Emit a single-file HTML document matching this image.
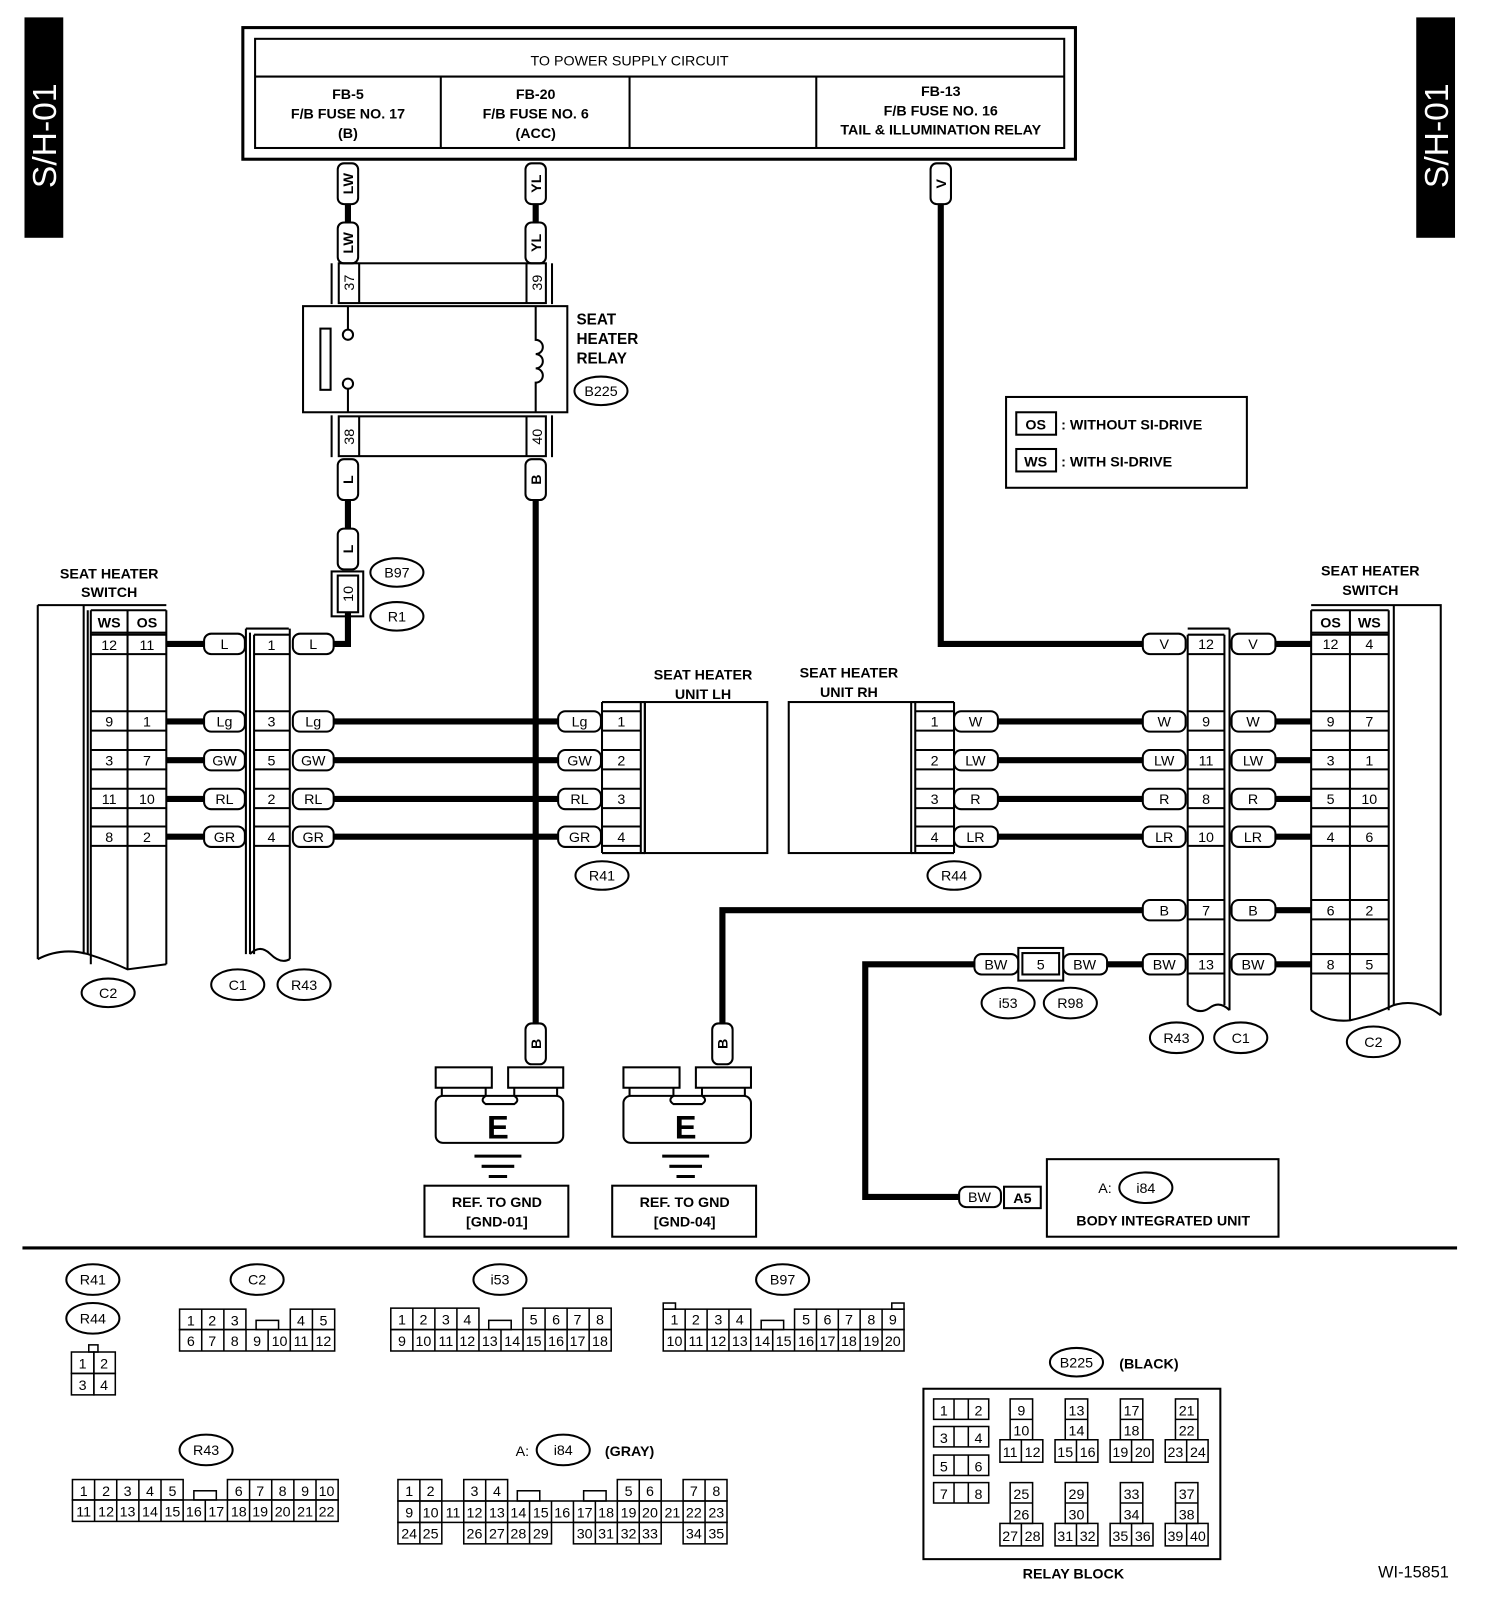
<!DOCTYPE html>
<html><head><meta charset="utf-8"><style>
html,body{margin:0;padding:0;background:#fff}
svg{display:block}
text{font-family:"Liberation Sans",sans-serif;font-weight:bold;font-size:14px;text-anchor:middle;fill:#000}
.n{font-weight:normal;font-size:14px}
.s{fill:none;stroke:#000;stroke-width:2}
.w{fill:#fff;stroke:#000;stroke-width:2}
.k{fill:none;stroke:#000;stroke-width:6}
</style></head><body>
<svg width="1504" height="1600" viewBox="0 0 1474 1568" xmlns="http://www.w3.org/2000/svg">
<!-- side tabs -->
<rect x="24" y="17" width="38" height="216" fill="#000"/>
<text transform="translate(55,133) rotate(-90)" style="font-size:33px;font-weight:normal;fill:#fff">S/H-01</text>
<rect x="1388" y="17" width="38" height="216" fill="#000"/>
<text transform="translate(1419,133) rotate(-90)" style="font-size:33px;font-weight:normal;fill:#fff">S/H-01</text>

<!-- top power box -->
<rect x="238" y="27" width="816" height="129" class="s" style="stroke-width:3"/>
<rect x="250" y="38" width="793" height="107" class="s"/>
<line x1="250" y1="75" x2="1043" y2="75" class="s"/>
<line x1="432" y1="75" x2="432" y2="145" class="s"/>
<line x1="617" y1="75" x2="617" y2="145" class="s"/>
<line x1="800" y1="75" x2="800" y2="145" class="s"/>
<text x="617" y="64" class="n">TO POWER SUPPLY CIRCUIT</text>
<text x="341" y="97">FB-5</text><text x="341" y="116">F/B FUSE NO. 17</text><text x="341" y="135">(B)</text>
<text x="525" y="97">FB-20</text><text x="525" y="116">F/B FUSE NO. 6</text><text x="525" y="135">(ACC)</text>
<text x="922" y="94">FB-13</text><text x="922" y="113">F/B FUSE NO. 16</text><text x="922" y="132">TAIL &amp; ILLUMINATION RELAY</text>

<!-- wires (thick) -->
<g class="k">
<path d="M341 200V218M525 200V218"/>
<path d="M341 490V518"/>
<path d="M341 600V631H327"/>
<path d="M525 490V1003"/>
<path d="M922 200V631H1120"/>
<path d="M163 631H200M163 707H200M163 745H200M163 783H200M163 820H200"/>
<path d="M327 707H547M327 745H547M327 783H547M327 820H547"/>
<path d="M978 707H1120M978 745H1120M978 783H1120M978 820H1120"/>
<path d="M1250 631H1285M1250 707H1285M1250 745H1285M1250 783H1285M1250 820H1285M1250 892H1285M1250 945H1285"/>
<path d="M1120 892H708V1003"/>
<path d="M1085 945H1120"/>
<path d="M955 945H848V1173H940"/>
</g>

<!-- vertical tags -->
<g>
<rect x="331" y="160" width="20" height="40" rx="6" class="w"/><text transform="translate(346,180) rotate(-90)">LW</text>
<rect x="331" y="218" width="20" height="40" rx="6" class="w"/><text transform="translate(346,238) rotate(-90)">LW</text>
<rect x="515" y="160" width="20" height="40" rx="6" class="w"/><text transform="translate(530,180) rotate(-90)">YL</text>
<rect x="515" y="218" width="20" height="40" rx="6" class="w"/><text transform="translate(530,238) rotate(-90)">YL</text>
<rect x="912" y="160" width="20" height="40" rx="6" class="w"/><text transform="translate(927,180) rotate(-90)">V</text>
<rect x="331" y="450" width="20" height="40" rx="6" class="w"/><text transform="translate(346,470) rotate(-90)">L</text>
<rect x="515" y="450" width="20" height="40" rx="6" class="w"/><text transform="translate(530,470) rotate(-90)">B</text>
<rect x="331" y="518" width="20" height="40" rx="6" class="w"/><text transform="translate(346,538) rotate(-90)">L</text>
<rect x="515" y="1003" width="20" height="40" rx="6" class="w"/><text transform="translate(530,1023) rotate(-90)">B</text>
<rect x="698" y="1003" width="20" height="40" rx="6" class="w"/><text transform="translate(713,1023) rotate(-90)">B</text>
</g>

<!-- relay connectors -->
<line x1="325" y1="258" x2="325" y2="298" class="s"/><line x1="541" y1="258" x2="541" y2="298" class="s"/>
<rect x="332" y="258" width="203" height="39" class="s"/>
<line x1="352" y1="258" x2="352" y2="297" class="s"/><line x1="516" y1="258" x2="516" y2="297" class="s"/>
<text transform="translate(347,277) rotate(-90)" class="n">37</text>
<text transform="translate(531,277) rotate(-90)" class="n">39</text>
<line x1="325" y1="407" x2="325" y2="448" class="s"/><line x1="541" y1="407" x2="541" y2="448" class="s"/>
<rect x="332" y="408" width="203" height="39" class="s"/>
<line x1="352" y1="408" x2="352" y2="447" class="s"/><line x1="516" y1="408" x2="516" y2="447" class="s"/>
<text transform="translate(347,428) rotate(-90)" class="n">38</text>
<text transform="translate(531,428) rotate(-90)" class="n">40</text>
<!-- relay body -->
<rect x="297" y="300" width="259" height="104" class="s"/>
<rect x="314" y="322" width="10" height="60" class="s"/>
<path d="M341 300V323M341 381V404" class="s"/>
<circle cx="341" cy="328" r="5" class="w"/><circle cx="341" cy="376" r="5" class="w"/>
<path d="M525 300V333 a7 7 0 1 1 0 14 a7 7 0 1 1 0 14 a7 7 0 1 1 0 14 V404" class="s"/>
<text x="565" y="318" style="text-anchor:start;font-size:15px">SEAT</text>
<text x="565" y="337" style="text-anchor:start;font-size:15px">HEATER</text>
<text x="565" y="356" style="text-anchor:start;font-size:15px">RELAY</text>
<ellipse cx="589" cy="383" rx="26" ry="14" class="s"/><text x="589" y="388" class="n">B225</text>

<!-- B97/R1 connector -->
<rect x="325" y="560" width="31" height="44" class="s"/>
<rect x="331" y="564" width="20" height="36" class="s"/>
<text transform="translate(346,582) rotate(-90)" class="n">10</text>
<ellipse cx="389" cy="561" rx="26" ry="14" class="s"/><text x="389" y="566" class="n">B97</text>
<ellipse cx="389" cy="604" rx="26" ry="14" class="s"/><text x="389" y="609" class="n">R1</text>

<!-- legend -->
<rect x="986" y="389" width="236" height="89" class="s"/>
<rect x="996" y="404" width="39" height="22" class="s"/><text x="1015" y="421">OS</text>
<text x="1040" y="421" style="text-anchor:start">: WITHOUT SI-DRIVE</text>
<rect x="996" y="440" width="39" height="22" class="s"/><text x="1015" y="457">WS</text>
<text x="1040" y="457" style="text-anchor:start">: WITH SI-DRIVE</text>

<!-- LEFT SEAT HEATER SWITCH -->
<text x="107" y="567">SEAT HEATER</text><text x="107" y="585">SWITCH</text>
<path d="M37 593H163M37 593V940M82 593V935M86 598V935" class="s"/>
<path d="M37 940Q60 928 86 935Q108 942 125 950L163 945" class="s"/>
<path d="M89 598V945M125 598V950M163 598V945M89 598H163M89 620H163" class="s"/>
<path d="M89 622H163M89 641H163M89 697H163M89 716H163M89 735H163M89 754H163M89 773H163M89 792H163M89 810H163M89 829H163" class="s"/>
<text x="107" y="615">WS</text><text x="144" y="615">OS</text>
<text x="107" y="637" class="n">12</text><text x="144" y="637" class="n">11</text>
<text x="107" y="712" class="n">9</text><text x="144" y="712" class="n">1</text>
<text x="107" y="750" class="n">3</text><text x="144" y="750" class="n">7</text>
<text x="107" y="788" class="n">11</text><text x="144" y="788" class="n">10</text>
<text x="107" y="825" class="n">8</text><text x="144" y="825" class="n">2</text>
<ellipse cx="106" cy="973" rx="26" ry="14" class="s"/><text x="106" y="978" class="n">C2</text>

<!-- left C1/R43 -->
<path d="M241 616H283M241 616V935M245 620V935M249 622V935M284 616V940" class="s"/>
<path d="M245 935Q255 925 265 935Q275 945 284 940" class="s"/>
<path d="M249 622H284M249 641H284M249 697H284M249 716H284M249 735H284M249 754H284M249 773H284M249 792H284M249 810H284M249 829H284" class="s"/>
<text x="266" y="637" class="n">1</text><text x="266" y="712" class="n">3</text><text x="266" y="750" class="n">5</text><text x="266" y="788" class="n">2</text><text x="266" y="825" class="n">4</text>
<ellipse cx="233" cy="965" rx="26" ry="15" class="s"/><text x="233" y="970" class="n">C1</text>
<ellipse cx="298" cy="965" rx="26" ry="15" class="s"/><text x="298" y="970" class="n">R43</text>

<!-- left tags -->
<g>
<rect x="200" y="621" width="40" height="20" rx="7" class="w"/><text x="220" y="636" class="n">L</text>
<rect x="287" y="621" width="40" height="20" rx="7" class="w"/><text x="307" y="636" class="n">L</text>
<rect x="200" y="697" width="40" height="20" rx="7" class="w"/><text x="220" y="712" class="n">Lg</text>
<rect x="287" y="697" width="40" height="20" rx="7" class="w"/><text x="307" y="712" class="n">Lg</text>
<rect x="200" y="735" width="40" height="20" rx="7" class="w"/><text x="220" y="750" class="n">GW</text>
<rect x="287" y="735" width="40" height="20" rx="7" class="w"/><text x="307" y="750" class="n">GW</text>
<rect x="200" y="773" width="40" height="20" rx="7" class="w"/><text x="220" y="788" class="n">RL</text>
<rect x="287" y="773" width="40" height="20" rx="7" class="w"/><text x="307" y="788" class="n">RL</text>
<rect x="200" y="810" width="40" height="20" rx="7" class="w"/><text x="220" y="825" class="n">GR</text>
<rect x="287" y="810" width="40" height="20" rx="7" class="w"/><text x="307" y="825" class="n">GR</text>
<rect x="547" y="697" width="42" height="20" rx="7" class="w"/><text x="568" y="712" class="n">Lg</text>
<rect x="547" y="735" width="42" height="20" rx="7" class="w"/><text x="568" y="750" class="n">GW</text>
<rect x="547" y="773" width="42" height="20" rx="7" class="w"/><text x="568" y="788" class="n">RL</text>
<rect x="547" y="810" width="42" height="20" rx="7" class="w"/><text x="568" y="825" class="n">GR</text>
</g>

<!-- unit LH -->
<text x="689" y="666">SEAT HEATER</text><text x="689" y="685">UNIT LH</text>
<path d="M590 688V836M628 688V836M632 688V836M590 688H632M590 836H632" class="s"/>
<path d="M590 697H628M590 716H628M590 735H628M590 754H628M590 773H628M590 792H628M590 810H628M590 829H628" class="s"/>
<rect x="632" y="688" width="120" height="148" class="s"/>
<text x="609" y="712" class="n">1</text><text x="609" y="750" class="n">2</text><text x="609" y="788" class="n">3</text><text x="609" y="825" class="n">4</text>
<ellipse cx="590" cy="858" rx="26" ry="14" class="s"/><text x="590" y="863" class="n">R41</text>

<!-- unit RH -->
<text x="832" y="664">SEAT HEATER</text><text x="832" y="683">UNIT RH</text>
<rect x="773" y="688" width="120" height="148" class="s"/>
<path d="M897 688V836M935 688V836M893 688H935M893 836H935" class="s"/>
<path d="M897 697H935M897 716H935M897 735H935M897 754H935M897 773H935M897 792H935M897 810H935M897 829H935" class="s"/>
<text x="916" y="712" class="n">1</text><text x="916" y="750" class="n">2</text><text x="916" y="788" class="n">3</text><text x="916" y="825" class="n">4</text>
<ellipse cx="935" cy="858" rx="26" ry="14" class="s"/><text x="935" y="863" class="n">R44</text>
<g>
<rect x="935" y="697" width="43" height="20" rx="7" class="w"/><text x="956" y="712" class="n">W</text>
<rect x="935" y="735" width="43" height="20" rx="7" class="w"/><text x="956" y="750" class="n">LW</text>
<rect x="935" y="773" width="43" height="20" rx="7" class="w"/><text x="956" y="788" class="n">R</text>
<rect x="935" y="810" width="43" height="20" rx="7" class="w"/><text x="956" y="825" class="n">LR</text>
</g>

<!-- right R43/C1 -->
<path d="M1164 616H1205M1164 622V985M1200 622V985M1205 616V990" class="s"/>
<path d="M1164 985Q1175 995 1185 988Q1195 980 1205 990" class="s"/>
<path d="M1164 622H1200M1164 641H1200M1164 697H1200M1164 716H1200M1164 735H1200M1164 754H1200M1164 773H1200M1164 792H1200M1164 810H1200M1164 829H1200M1164 882H1200M1164 901H1200M1164 935H1200M1164 954H1200" class="s"/>
<text x="1182" y="636" class="n">12</text><text x="1182" y="712" class="n">9</text><text x="1182" y="750" class="n">11</text><text x="1182" y="788" class="n">8</text><text x="1182" y="825" class="n">10</text><text x="1182" y="897" class="n">7</text><text x="1182" y="950" class="n">13</text>
<ellipse cx="1153" cy="1017" rx="26" ry="15" class="s"/><text x="1153" y="1022" class="n">R43</text>
<ellipse cx="1216" cy="1017" rx="26" ry="15" class="s"/><text x="1216" y="1022" class="n">C1</text>
<g>
<rect x="1120" y="621" width="42" height="20" rx="7" class="w"/><text x="1141" y="636" class="n">V</text>
<rect x="1207" y="621" width="43" height="20" rx="7" class="w"/><text x="1228" y="636" class="n">V</text>
<rect x="1120" y="697" width="42" height="20" rx="7" class="w"/><text x="1141" y="712" class="n">W</text>
<rect x="1207" y="697" width="43" height="20" rx="7" class="w"/><text x="1228" y="712" class="n">W</text>
<rect x="1120" y="735" width="42" height="20" rx="7" class="w"/><text x="1141" y="750" class="n">LW</text>
<rect x="1207" y="735" width="43" height="20" rx="7" class="w"/><text x="1228" y="750" class="n">LW</text>
<rect x="1120" y="773" width="42" height="20" rx="7" class="w"/><text x="1141" y="788" class="n">R</text>
<rect x="1207" y="773" width="43" height="20" rx="7" class="w"/><text x="1228" y="788" class="n">R</text>
<rect x="1120" y="810" width="42" height="20" rx="7" class="w"/><text x="1141" y="825" class="n">LR</text>
<rect x="1207" y="810" width="43" height="20" rx="7" class="w"/><text x="1228" y="825" class="n">LR</text>
<rect x="1120" y="882" width="42" height="20" rx="7" class="w"/><text x="1141" y="897" class="n">B</text>
<rect x="1207" y="882" width="43" height="20" rx="7" class="w"/><text x="1228" y="897" class="n">B</text>
<rect x="1120" y="935" width="42" height="20" rx="7" class="w"/><text x="1141" y="950" class="n">BW</text>
<rect x="1207" y="935" width="43" height="20" rx="7" class="w"/><text x="1228" y="950" class="n">BW</text>
<rect x="955" y="935" width="43" height="20" rx="7" class="w"/><text x="976" y="950" class="n">BW</text>
<rect x="1042" y="935" width="43" height="20" rx="7" class="w"/><text x="1063" y="950" class="n">BW</text>
</g>
<rect x="998" y="929" width="44" height="32" class="s"/>
<rect x="1002" y="934" width="36" height="21" class="s"/>
<text x="1020" y="950" class="n">5</text>
<ellipse cx="988" cy="983" rx="26" ry="15" class="s"/><text x="988" y="988" class="n">i53</text>
<ellipse cx="1049" cy="983" rx="26" ry="15" class="s"/><text x="1049" y="988" class="n">R98</text>

<!-- right switch -->
<text x="1343" y="564">SEAT HEATER</text><text x="1343" y="583">SWITCH</text>
<path d="M1285 593H1412V995M1366 593V985M1361 598V990" class="s"/>
<path d="M1285 598V990M1323 598V1000M1285 598H1361M1285 620H1361" class="s"/>
<path d="M1285 990Q1300 1002 1323 1000Q1345 995 1366 985Q1390 978 1412 995" class="s"/>
<path d="M1285 622H1361M1285 641H1361M1285 697H1361M1285 716H1361M1285 735H1361M1285 754H1361M1285 773H1361M1285 792H1361M1285 810H1361M1285 829H1361M1285 882H1361M1285 901H1361M1285 935H1361M1285 954H1361" class="s"/>
<text x="1304" y="615">OS</text><text x="1342" y="615">WS</text>
<text x="1304" y="636" class="n">12</text><text x="1342" y="636" class="n">4</text>
<text x="1304" y="712" class="n">9</text><text x="1342" y="712" class="n">7</text>
<text x="1304" y="750" class="n">3</text><text x="1342" y="750" class="n">1</text>
<text x="1304" y="788" class="n">5</text><text x="1342" y="788" class="n">10</text>
<text x="1304" y="825" class="n">4</text><text x="1342" y="825" class="n">6</text>
<text x="1304" y="897" class="n">6</text><text x="1342" y="897" class="n">2</text>
<text x="1304" y="950" class="n">8</text><text x="1342" y="950" class="n">5</text>
<ellipse cx="1346" cy="1021" rx="26" ry="15" class="s"/><text x="1346" y="1026" class="n">C2</text>

<!-- body integrated unit -->
<rect x="940" y="1163" width="41" height="20" rx="7" class="w"/><text x="960" y="1178" class="n">BW</text>
<rect x="984" y="1163" width="36" height="21" class="s"/><text x="1002" y="1179">A5</text>
<rect x="1026" y="1136" width="227" height="76" class="s"/>
<text x="1083" y="1169" class="n">A:</text>
<ellipse cx="1123" cy="1164" rx="26" ry="15" class="s"/><text x="1123" y="1169" class="n">i84</text>
<text x="1140" y="1201">BODY INTEGRATED UNIT</text>

<!-- grounds -->
<g>
<rect x="427" y="1046" width="55" height="20" class="s"/>
<rect x="498" y="1046" width="54" height="20" class="s"/>
<path d="M433 1066V1074M476 1066V1074M504 1066V1074M546 1066V1074M476 1074Q470 1078 476 1082H504Q510 1078 504 1074" class="s"/>
<rect x="427" y="1074" width="125" height="46" rx="7" class="s"/>
<text x="488" y="1116" style="font-size:32px">E</text>
<path d="M465 1133H511M472 1143H504M479 1153H497" class="s" style="stroke-width:3"/>
<rect x="416" y="1162" width="141" height="50" class="s"/>
<text x="487" y="1183">REF. TO GND</text><text x="487" y="1202">[GND-01]</text>
</g>
<g>
<rect x="611" y="1046" width="55" height="20" class="s"/>
<rect x="682" y="1046" width="54" height="20" class="s"/>
<path d="M617 1066V1074M660 1066V1074M688 1066V1074M730 1066V1074M660 1074Q654 1078 660 1082H688Q694 1078 688 1074" class="s"/>
<rect x="611" y="1074" width="125" height="46" rx="7" class="s"/>
<text x="672" y="1116" style="font-size:32px">E</text>
<path d="M649 1133H695M656 1143H688M663 1153H681" class="s" style="stroke-width:3"/>
<rect x="600" y="1162" width="141" height="50" class="s"/>
<text x="671" y="1183">REF. TO GND</text><text x="671" y="1202">[GND-04]</text>
</g>

<line x1="22" y1="1223" x2="1428" y2="1223" class="s" style="stroke-width:3"/>

<!-- bottom connectors -->
<ellipse cx="91" cy="1254" rx="26" ry="15" class="s"/><text x="91" y="1259" class="n">R41</text>
<ellipse cx="91" cy="1292" rx="26" ry="15" class="s"/><text x="91" y="1297" class="n">R44</text>
<rect x="87" y="1318" width="9" height="7" class="s" style="stroke-width:1.5"/>
<g class="s" style="stroke-width:1.5"><rect x="70" y="1325" width="22" height="21"/><rect x="92" y="1325" width="21" height="21"/><rect x="70" y="1346" width="22" height="21"/><rect x="92" y="1346" width="21" height="21"/></g>
<text x="81" y="1341" class="n">1</text><text x="102" y="1341" class="n">2</text><text x="81" y="1362" class="n">3</text><text x="102" y="1362" class="n">4</text>

<!-- C2 -->
<ellipse cx="252" cy="1254" rx="26" ry="15" class="s"/><text x="252" y="1259" class="n">C2</text>
<g class="s" style="stroke-width:1.5">
<rect x="176" y="1283" width="65" height="20"/><path d="M197.7 1283V1303M219.4 1283V1303"/>
<rect x="284.5" y="1283" width="43.5" height="20"/><path d="M306.2 1283V1303"/>
<rect x="251" y="1294" width="22" height="9"/>
<rect x="176" y="1303" width="152" height="21"/><path d="M197.7 1303V1324M219.4 1303V1324M241.1 1303V1324M262.8 1303V1324M284.5 1303V1324M306.2 1303V1324"/>
</g>
<text x="187" y="1299" class="n">1</text><text x="208" y="1299" class="n">2</text><text x="230" y="1299" class="n">3</text><text x="295" y="1299" class="n">4</text><text x="317" y="1299" class="n">5</text>
<text x="187" y="1319" class="n">6</text><text x="208" y="1319" class="n">7</text><text x="230" y="1319" class="n">8</text><text x="252" y="1319" class="n">9</text><text x="274" y="1319" class="n">10</text><text x="295" y="1319" class="n">11</text><text x="317" y="1319" class="n">12</text>

<!-- i53 -->
<ellipse cx="490" cy="1254" rx="26" ry="15" class="s"/><text x="490" y="1259" class="n">i53</text>
<g class="s" style="stroke-width:1.5">
<rect x="383" y="1282" width="86.4" height="21"/><path d="M404.6 1282V1303M426.2 1282V1303M447.8 1282V1303"/>
<rect x="512.6" y="1282" width="86.4" height="21"/><path d="M534.2 1282V1303M555.8 1282V1303M577.4 1282V1303"/>
<rect x="479" y="1294" width="22" height="9"/>
<rect x="383" y="1303" width="216" height="21"/><path d="M404.6 1303V1324M426.2 1303V1324M447.8 1303V1324M469.4 1303V1324M491 1303V1324M512.6 1303V1324M534.2 1303V1324M555.8 1303V1324M577.4 1303V1324"/>
</g>
<text x="394" y="1298" class="n">1</text><text x="415" y="1298" class="n">2</text><text x="437" y="1298" class="n">3</text><text x="458" y="1298" class="n">4</text><text x="523" y="1298" class="n">5</text><text x="545" y="1298" class="n">6</text><text x="566" y="1298" class="n">7</text><text x="588" y="1298" class="n">8</text>
<text x="394" y="1319" class="n">9</text><text x="415" y="1319" class="n">10</text><text x="437" y="1319" class="n">11</text><text x="458" y="1319" class="n">12</text><text x="480" y="1319" class="n">13</text><text x="502" y="1319" class="n">14</text><text x="523" y="1319" class="n">15</text><text x="545" y="1319" class="n">16</text><text x="566" y="1319" class="n">17</text><text x="588" y="1319" class="n">18</text>

<!-- B97 -->
<ellipse cx="767" cy="1254" rx="26" ry="15" class="s"/><text x="767" y="1259" class="n">B97</text>
<g class="s" style="stroke-width:1.5">
<rect x="650" y="1277" width="12" height="6"/><rect x="874" y="1277" width="12" height="6"/>
<rect x="650" y="1283" width="85.8" height="20"/><path d="M671.5 1283V1303M693 1283V1303M714.4 1283V1303"/>
<rect x="778.7" y="1283" width="107.3" height="20"/><path d="M800.2 1283V1303M821.6 1283V1303M843 1283V1303M864.5 1283V1303"/>
<rect x="746" y="1294" width="22" height="9"/>
<rect x="650" y="1303" width="236" height="21"/><path d="M671.5 1303V1324M693 1303V1324M714.4 1303V1324M735.8 1303V1324M757.3 1303V1324M778.7 1303V1324M800.2 1303V1324M821.6 1303V1324M843 1303V1324M864.5 1303V1324"/>
</g>
<text x="661" y="1298" class="n">1</text><text x="682" y="1298" class="n">2</text><text x="704" y="1298" class="n">3</text><text x="725" y="1298" class="n">4</text><text x="790" y="1298" class="n">5</text><text x="811" y="1298" class="n">6</text><text x="832" y="1298" class="n">7</text><text x="854" y="1298" class="n">8</text><text x="875" y="1298" class="n">9</text>
<text x="661" y="1319" class="n">10</text><text x="682" y="1319" class="n">11</text><text x="704" y="1319" class="n">12</text><text x="725" y="1319" class="n">13</text><text x="747" y="1319" class="n">14</text><text x="768" y="1319" class="n">15</text><text x="790" y="1319" class="n">16</text><text x="811" y="1319" class="n">17</text><text x="832" y="1319" class="n">18</text><text x="854" y="1319" class="n">19</text><text x="875" y="1319" class="n">20</text>

<!-- R43 -->
<ellipse cx="202" cy="1421" rx="26" ry="15" class="s"/><text x="202" y="1426" class="n">R43</text>
<g class="s" style="stroke-width:1.5">
<rect x="71" y="1450" width="108.5" height="20"/><path d="M92.7 1450V1470M114.4 1450V1470M136.1 1450V1470M157.8 1450V1470"/>
<rect x="222.9" y="1450" width="108.5" height="20"/><path d="M244.6 1450V1470M266.3 1450V1470M288 1450V1470M309.7 1450V1470"/>
<rect x="190" y="1461" width="22" height="9"/>
<rect x="71" y="1470" width="260.4" height="21"/><path d="M92.7 1470V1491M114.4 1470V1491M136.1 1470V1491M157.8 1470V1491M179.5 1470V1491M201.2 1470V1491M222.9 1470V1491M244.6 1470V1491M266.3 1470V1491M288 1470V1491M309.7 1470V1491"/>
</g>
<text x="82" y="1466" class="n">1</text><text x="104" y="1466" class="n">2</text><text x="125" y="1466" class="n">3</text><text x="147" y="1466" class="n">4</text><text x="169" y="1466" class="n">5</text><text x="234" y="1466" class="n">6</text><text x="255" y="1466" class="n">7</text><text x="277" y="1466" class="n">8</text><text x="299" y="1466" class="n">9</text><text x="320" y="1466" class="n">10</text>
<text x="82" y="1486" class="n">11</text><text x="104" y="1486" class="n">12</text><text x="125" y="1486" class="n">13</text><text x="147" y="1486" class="n">14</text><text x="169" y="1486" class="n">15</text><text x="190" y="1486" class="n">16</text><text x="212" y="1486" class="n">17</text><text x="234" y="1486" class="n">18</text><text x="255" y="1486" class="n">19</text><text x="277" y="1486" class="n">20</text><text x="299" y="1486" class="n">21</text><text x="320" y="1486" class="n">22</text>

<!-- i84 -->
<text x="512" y="1427" class="n">A:</text>
<ellipse cx="552" cy="1421" rx="26" ry="15" class="s"/><text x="552" y="1426" class="n">i84</text>
<text x="617" y="1427">(GRAY)</text>
<g class="s" style="stroke-width:1.5">
<rect x="390" y="1450" width="43" height="21"/><path d="M411.5 1450V1471"/>
<rect x="454.5" y="1450" width="43" height="21"/><path d="M476 1450V1471"/>
<rect x="507" y="1461" width="22" height="10"/><rect x="572" y="1461" width="22" height="10"/>
<rect x="605" y="1450" width="43" height="21"/><path d="M626.5 1450V1471"/>
<rect x="669.5" y="1450" width="43" height="21"/><path d="M691 1450V1471"/>
<rect x="390" y="1471" width="322.5" height="21"/>
<path d="M411.5 1471V1492M433 1471V1492M454.5 1471V1492M476 1471V1492M497.5 1471V1492M519 1471V1492M540.5 1471V1492M562 1471V1492M583.5 1471V1492M605 1471V1492M626.5 1471V1492M648 1471V1492M669.5 1471V1492M691 1471V1492"/>
<rect x="390" y="1492" width="43" height="21"/><path d="M411.5 1492V1513"/>
<rect x="454.5" y="1492" width="86" height="21"/><path d="M476 1492V1513M497.5 1492V1513M519 1492V1513"/>
<rect x="562" y="1492" width="86" height="21"/><path d="M583.5 1492V1513M605 1492V1513M626.5 1492V1513"/>
<rect x="669.5" y="1492" width="43" height="21"/><path d="M691 1492V1513"/>
</g>
<text x="401" y="1466" class="n">1</text><text x="422" y="1466" class="n">2</text><text x="465" y="1466" class="n">3</text><text x="487" y="1466" class="n">4</text><text x="616" y="1466" class="n">5</text><text x="637" y="1466" class="n">6</text><text x="680" y="1466" class="n">7</text><text x="702" y="1466" class="n">8</text>
<text x="401" y="1487" class="n">9</text><text x="422" y="1487" class="n">10</text><text x="444" y="1487" class="n">11</text><text x="465" y="1487" class="n">12</text><text x="487" y="1487" class="n">13</text><text x="508" y="1487" class="n">14</text><text x="530" y="1487" class="n">15</text><text x="551" y="1487" class="n">16</text><text x="573" y="1487" class="n">17</text><text x="594" y="1487" class="n">18</text><text x="616" y="1487" class="n">19</text><text x="637" y="1487" class="n">20</text><text x="659" y="1487" class="n">21</text><text x="680" y="1487" class="n">22</text><text x="702" y="1487" class="n">23</text>
<text x="401" y="1508" class="n">24</text><text x="422" y="1508" class="n">25</text><text x="465" y="1508" class="n">26</text><text x="487" y="1508" class="n">27</text><text x="508" y="1508" class="n">28</text><text x="530" y="1508" class="n">29</text><text x="573" y="1508" class="n">30</text><text x="594" y="1508" class="n">31</text><text x="616" y="1508" class="n">32</text><text x="637" y="1508" class="n">33</text><text x="680" y="1508" class="n">34</text><text x="702" y="1508" class="n">35</text>

<!-- relay block B225 -->
<ellipse cx="1055" cy="1335" rx="26" ry="14" class="s"/><text x="1055" y="1340" class="n">B225</text>
<text x="1126" y="1341">(BLACK)</text>
<rect x="905" y="1361" width="291" height="167" class="s"/>
<g class="s" style="stroke-width:1.5">
<rect x="915" y="1371" width="54" height="20"/><path d="M935 1371V1391M949 1371V1391"/>
<rect x="915" y="1398" width="54" height="20"/><path d="M935 1398V1418M949 1398V1418"/>
<rect x="915" y="1426" width="54" height="20"/><path d="M935 1426V1446M949 1426V1446"/>
<rect x="915" y="1453" width="54" height="20"/><path d="M935 1453V1473M949 1453V1473"/>
<rect x="990" y="1371" width="22" height="40"/><path d="M990 1391H1012"/><rect x="980" y="1411" width="42" height="22"/><path d="M1001 1411V1433"/>
<rect x="1044" y="1371" width="22" height="40"/><path d="M1044 1391H1066"/><rect x="1034" y="1411" width="42" height="22"/><path d="M1055 1411V1433"/>
<rect x="1098" y="1371" width="22" height="40"/><path d="M1098 1391H1120"/><rect x="1088" y="1411" width="42" height="22"/><path d="M1109 1411V1433"/>
<rect x="1152" y="1371" width="22" height="40"/><path d="M1152 1391H1174"/><rect x="1142" y="1411" width="42" height="22"/><path d="M1163 1411V1433"/>
<rect x="990" y="1453" width="22" height="40"/><path d="M990 1473H1012"/><rect x="980" y="1493" width="42" height="22"/><path d="M1001 1493V1515"/>
<rect x="1044" y="1453" width="22" height="40"/><path d="M1044 1473H1066"/><rect x="1034" y="1493" width="42" height="22"/><path d="M1055 1493V1515"/>
<rect x="1098" y="1453" width="22" height="40"/><path d="M1098 1473H1120"/><rect x="1088" y="1493" width="42" height="22"/><path d="M1109 1493V1515"/>
<rect x="1152" y="1453" width="22" height="40"/><path d="M1152 1473H1174"/><rect x="1142" y="1493" width="42" height="22"/><path d="M1163 1493V1515"/>
</g>
<text x="925" y="1387" class="n">1</text><text x="959" y="1387" class="n">2</text>
<text x="925" y="1414" class="n">3</text><text x="959" y="1414" class="n">4</text>
<text x="925" y="1442" class="n">5</text><text x="959" y="1442" class="n">6</text>
<text x="925" y="1469" class="n">7</text><text x="959" y="1469" class="n">8</text>
<text x="1001" y="1387" class="n">9</text><text x="1001" y="1407" class="n">10</text><text x="990" y="1428" class="n">11</text><text x="1012" y="1428" class="n">12</text>
<text x="1055" y="1387" class="n">13</text><text x="1055" y="1407" class="n">14</text><text x="1044" y="1428" class="n">15</text><text x="1066" y="1428" class="n">16</text>
<text x="1109" y="1387" class="n">17</text><text x="1109" y="1407" class="n">18</text><text x="1098" y="1428" class="n">19</text><text x="1120" y="1428" class="n">20</text>
<text x="1163" y="1387" class="n">21</text><text x="1163" y="1407" class="n">22</text><text x="1152" y="1428" class="n">23</text><text x="1174" y="1428" class="n">24</text>
<text x="1001" y="1469" class="n">25</text><text x="1001" y="1489" class="n">26</text><text x="990" y="1510" class="n">27</text><text x="1012" y="1510" class="n">28</text>
<text x="1055" y="1469" class="n">29</text><text x="1055" y="1489" class="n">30</text><text x="1044" y="1510" class="n">31</text><text x="1066" y="1510" class="n">32</text>
<text x="1109" y="1469" class="n">33</text><text x="1109" y="1489" class="n">34</text><text x="1098" y="1510" class="n">35</text><text x="1120" y="1510" class="n">36</text>
<text x="1163" y="1469" class="n">37</text><text x="1163" y="1489" class="n">38</text><text x="1152" y="1510" class="n">39</text><text x="1174" y="1510" class="n">40</text>
<text x="1052" y="1547">RELAY BLOCK</text>
<text x="1420" y="1546" style="text-anchor:end;font-weight:normal;font-size:16px">WI-15851</text>
</svg>
</body></html>
